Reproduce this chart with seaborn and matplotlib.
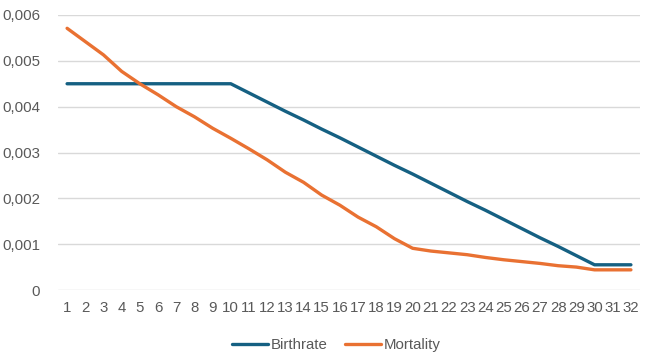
import pandas as pd
import seaborn as sns
import matplotlib.pyplot as plt
from matplotlib.ticker import FuncFormatter

# data
steps = list(range(1, 33))
birthrate = [0.0045, 0.0045, 0.0045, 0.0045, 0.0045, 0.0045, 0.0045, 0.0045, 0.0045, 0.0045,
             0.0043, 0.0041, 0.0039, 0.00371, 0.00351, 0.00332, 0.00312, 0.00292, 0.00272, 0.00253,
             0.00233, 0.00213, 0.00193, 0.00174, 0.00154, 0.00134, 0.00114, 0.00095, 0.00075, 0.00055,
             0.00055, 0.00055]
mortality = [0.00571, 0.00542, 0.00513, 0.00477, 0.0045, 0.00426, 0.0040, 0.00378, 0.00353, 0.00331,
             0.00308, 0.00284, 0.00257, 0.00235, 0.00207, 0.00185, 0.00159, 0.00138, 0.00112, 0.00091,
             0.00085, 0.00081, 0.00077, 0.00071, 0.00066, 0.00062, 0.00058, 0.00053, 0.0005, 0.00044,
             0.00044, 0.00044]
series_names = ['Birthrate', 'Mortality']
colors = ['#156082', '#E97132']

df = pd.DataFrame({'step': steps * 2,
                   'value': birthrate + mortality,
                   'series': [series_names[0]] * len(steps) + [series_names[1]] * len(steps)})

sns.set_style('white')
plt.rcParams['font.family'] = ['Liberation Sans', 'DejaVu Sans']

fig = plt.figure(figsize=(6.52, 3.62), dpi=100)
ax = fig.add_axes([58 / 652, 72 / 362, 582 / 652, 275 / 362])

sns.lineplot(data=df, x='step', y='value', hue='series', palette=colors,
             linewidth=2.4, ax=ax, legend=True)

ax.set_xlim(0.5, 32.5)
ax.set_ylim(0, 0.006)
ax.set_xticks(steps)
ax.set_yticks([0, 0.001, 0.002, 0.003, 0.004, 0.005, 0.006])
ax.yaxis.set_major_formatter(FuncFormatter(lambda v, p: '0' if v == 0 else f'{v:.3f}'.replace('.', ',')))
ax.grid(axis='y', color='#D9D9D9', linewidth=1)
ax.set_axisbelow(True)
for s in ax.spines.values():
    s.set_visible(False)
ax.tick_params(axis='both', length=0, labelsize=10.8, labelcolor='#595959')
ax.tick_params(axis='y', pad=13)
ax.tick_params(axis='x', pad=8)
ax.set_xlabel('')
ax.set_ylabel('')

ax.legend(loc='upper center', bbox_to_anchor=(0.478, -0.125), ncol=2, frameon=False,
          fontsize=10.8, handlelength=2.4, columnspacing=1.2, handletextpad=0.15,
          labelcolor='#595959')

fig.savefig('out.png', dpi=100)
